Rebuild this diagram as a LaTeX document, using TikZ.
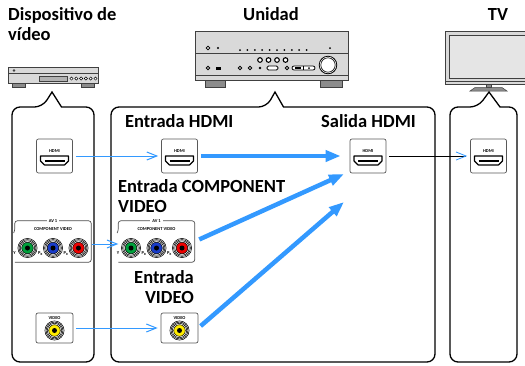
\documentclass[tikz,border=0pt]{standalone}
\usepackage{fontspec}
\setmainfont{Carlito}
\usetikzlibrary{arrows.meta,calc}

\definecolor{bluFreccia}{RGB}{51,153,255}
\definecolor{verdeJack}{RGB}{0,160,60}
\definecolor{bluJack}{RGB}{25,60,200}
\definecolor{rossoJack}{RGB}{235,0,0}
\definecolor{gialloJack}{RGB}{255,236,0}

%Presa RCA: #1 centro, #2 colore
\newcommand{\jackRCA}[2]{%
  \foreach \raggio in {9.6,8.4,7.2}
    \draw[line width=0.55pt] (#1) circle[radius=\raggio];
  \filldraw[fill=#2, line width=0.5pt] (#1) circle[radius=5.8];
  \fill (#1) circle[radius=2.5];
}

%Presa HDMI: #1 nome, #2 centro
\newcommand{\presaHDMI}[2]{%
  \node[porta, minimum width=36pt, minimum height=34pt] (#1) at (#2) {};
  \node[etichettina] (#1-tag) at ($(#1.center)+(0,-4.5)$) {HDMI};
  \draw[line width=1.1pt, line join=round] ($(#1.center)+(-14,0)$) -- ++(28,0) -- ++(0,5) -- ++(-4,4) -- ++(-20,0) -- ++(-4,-4) -- cycle;
  \draw[line width=1.7pt] ($(#1.center)+(-10,5)$) -- ++(20,0);
}

%Presa video: #1 nome, #2 centro
\newcommand{\presaVideo}[2]{%
  \node[porta, minimum width=37pt, minimum height=30pt] (#1) at (#2) {};
  \node[etichettina] (#1-tag) at ($(#1.north)+(0,5.5)$) {VIDEO};
  \jackRCA{$(#1.center)+(0,2.5)$}{gialloJack}
}

%Pannello component: #1 nome, #2 centro
\newcommand{\pannelloComp}[2]{%
  \node[cornice, minimum width=76pt, minimum height=41pt] (#1) at (#2) {};
  \draw[line width=0.7pt, draw=black!70, rounded corners=2.5pt] ($(#1.north west)+(-1,12)$) -- ++(1,-2) -- (#1.north west) -- (#1.north east) -- (#1.south east) -- (#1.south west);
  \node[etichettina, fill=white, inner xsep=2pt] (#1-av) at (#1.north) {AV 1};
  \node[etichettina] (#1-cv) at ($(#1.north)+(0,8)$) {COMPONENT VIDEO};
  \jackRCA{$(#1.center)+(-25.5,6.5)$}{verdeJack}
  \jackRCA{$(#1.center)+(0,6.5)$}{bluJack}
  \jackRCA{$(#1.center)+(25.5,6.5)$}{rossoJack}
  \node[etichettina] (#1-y) at ($(#1.center)+(-38.5,12)$) {Y};
  \node[etichettina] (#1-pb) at ($(#1.center)+(-12.5,12.5)$) {P\textsubscript{B}};
  \node[etichettina] (#1-pr) at ($(#1.center)+(13,12.5)$) {P\textsubscript{R}};
}

%Riquadro con punta: #1 sinistra, #2 destra, #3 punta, #4 mezza base
\newcommand{\disegnaPannello}[4]{%
  \draw[pannello] (#1,362) -- (#1,107) -- ({#3-#4},107) [sharp corners] -- (#3,92) -- ({#3+#4},107) [rounded corners=8pt] -- (#2,107) -- (#2,362) -- cycle;
}

\begin{document}
\begin{tikzpicture}[x=1pt, y=-1pt,
  titolo/.style={font=\fontsize{18.5}{20}\selectfont\bfseries, inner sep=0pt},
  porta/.style={draw=black!65, fill=white, line width=0.7pt, rounded corners=2pt, inner sep=0pt},
  cornice/.style={inner sep=0pt},
  etichettina/.style={font=\fontsize{4.5}{5}\selectfont\bfseries, inner sep=0pt},
  pannello/.style={draw, line width=1.3pt, rounded corners=8pt},
  corpo/.style={draw=black!75, fill=black!15, line width=0.6pt},
  piedino/.style={draw=black!75, fill=black!45, line width=0.5pt},
  frecciaSottile/.style={draw=bluFreccia, line width=1pt, shorten <=3pt, shorten >=3pt, -{Straight Barb[length=10pt,width=8pt]}},
  frecciaNera/.style={draw=black, line width=0.8pt, shorten <=3pt, shorten >=3pt, -{Straight Barb[length=10pt,width=8pt,color=bluFreccia]}},
  frecciaSpessa/.style={draw=bluFreccia, line width=4.5pt, -{Triangle[length=15pt,width=11pt]}}]

\useasboundingbox (0,0) rectangle (525,365);

%Titoli
\node[titolo, anchor=north west, align=left] (titDispositivo) at (8,7.5) {Dispositivo de\\vídeo};
\node[titolo, anchor=base] (titUnita) at (271,20) {Unidad};
\node[titolo, anchor=base] (titTV) at (498,20) {TV};

%Lettore
\draw[corpo] (8,67) rectangle (98,83);
\draw[draw=black!75, line width=0.5pt] (8,73) -- (98,73);
\fill[black!75] (14,70.5) circle[radius=1.3];
\draw[draw=black!75, fill=black!30, line width=0.5pt] (39,76) rectangle (67,81);
\foreach \i in {0,...,5}
  \draw[line width=0.5pt, fill=white] (71.5+\i*4.8,78.5) circle[radius=1.6];
\draw[piedino] (12,83) rectangle (25,87);
\draw[piedino] (81,83) rectangle (94,87);

%Sintoamplificatore
\draw[corpo] (195,31) rectangle (348,80);
\draw[draw=black!75, line width=0.6pt] (195,53.5) -- (348,53.5);
\draw[draw=black!75, line width=0.6pt] (195,75) -- (348,75);
\draw[line width=0.7pt] (208,48) circle[radius=1.8];
\fill (218,48) circle[radius=1.2];
\foreach \i in {0,...,9}
  \fill (240+\i*7.4,50) circle[radius=1];
\fill (330,48) circle[radius=1];
\foreach \xx in {260,268.5,277,285.5}
  \draw[line width=1.1pt, fill=white] (\xx,60) circle[radius=2.3];
\draw[line width=0.9pt, fill=white] (208,68) circle[radius=1.8];
\fill (216,66.5) rectangle (221,69.5);
\draw[line width=0.9pt, fill=white] (240,68) circle[radius=1.8];
\draw[line width=0.9pt, fill=white] (250,68) circle[radius=1.8];
\fill (260,68) circle[radius=1.3];
\draw[line width=0.8pt, fill=white, rounded corners=1.5pt] (267,66) rectangle (278,70);
\draw[line width=0.9pt, fill=white] (287,68) circle[radius=1.8];
\draw[line width=0.8pt, fill=white, rounded corners=2pt] (292,66) rectangle (315,70);
\draw[line width=0.8pt] (303.5,66) -- (303.5,70);
\fill (295,67.2) rectangle (301,68.8);
\fill (309,68) circle[radius=1];
\draw[line width=0.8pt, fill=white] (328,65) circle[radius=8.8];
\draw[line width=0.6pt] (328,65) circle[radius=7.2];
\draw[piedino] (205,80) rectangle (225,87);
\draw[piedino] (320,80) rectangle (342,87);

%Televisore
\draw[corpo] (445,31) rectangle (530,84);
\draw[draw=black!75, fill=black!10, line width=0.6pt] (449,35) rectangle (530,78);
\draw[draw=black!75, line width=0.5pt] (445,81) -- (530,81);
\draw[piedino] (486,84) rectangle (491,87.5);
\draw[piedino] (470,91) -- (475,87.5) -- (502,87.5) -- (507,91) -- cycle;

%Disegno i riquadri
\disegnaPannello{12}{94}{52}{9.5}
\disegnaPannello{111}{435}{275}{8.5}
\disegnaPannello{450}{517}{489}{11}

%Disegno le prese
\presaHDMI{dvdHdmi}{54.5,156}
\presaHDMI{inHdmi}{179.5,156}
\presaHDMI{outHdmi}{368,156}
\presaHDMI{tvHdmi}{488.5,156}

\pannelloComp{dvdComp}{53,241.5}
\pannelloComp{inComp}{156.5,241.5}

\presaVideo{dvdVideo}{54.5,328}
\presaVideo{inVideo}{179.5,328}

%Etichette
\node[titolo, anchor=base west] (lblInHdmi) at (125,127) {Entrada HDMI};
\node[titolo, anchor=base west] (lblOutHdmi) at (321,127) {Salida HDMI};
\node[titolo, anchor=north west, align=left] (lblInComp) at (118,179.5) {Entrada COMPONENT\\VIDEO};
\node[titolo, anchor=north east, align=right] (lblInVideo) at (194,270) {Entrada\\VIDEO};

%Disegno i collegamenti
\coordinate (puntoComp) at (344,174);
\coordinate (puntoVideo) at (344,202);

\draw[frecciaSottile] (dvdHdmi.east) -- (inHdmi.west);
\draw[frecciaSottile, shorten <=1pt, shorten >=0pt] ([yshift=-2.5pt]dvdComp.east) -- ([yshift=-2.5pt]inComp.west);
\draw[frecciaSottile] (dvdVideo.east) -- (inVideo.west);

\draw[frecciaSpessa, shorten <=3pt, shorten >=9pt] (inHdmi.east) -- (outHdmi.west);
\draw[frecciaSpessa, shorten <=5pt] (inComp.east) -- (puntoComp);
\draw[frecciaSpessa, shorten <=3pt] (inVideo.east) -- (puntoVideo);

\draw[frecciaNera] (outHdmi.east) -- (tvHdmi.west);

\end{tikzpicture}
\end{document}
